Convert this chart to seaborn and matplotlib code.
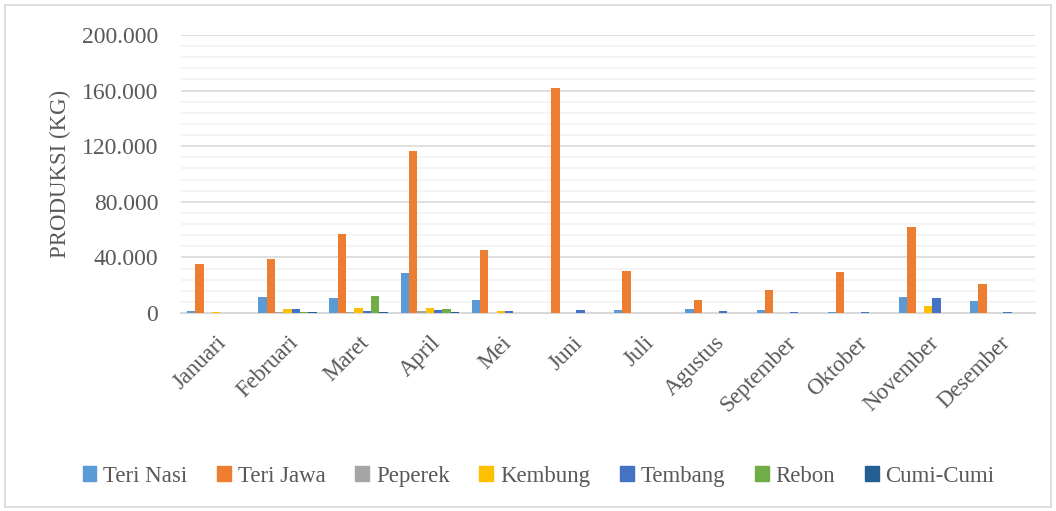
import matplotlib
matplotlib.use("Agg")
import matplotlib.pyplot as plt
import matplotlib.ticker as mticker
from matplotlib.patches import Rectangle
import seaborn as sns
import pandas as pd

months = ["Januari", "Februari", "Maret", "April", "Mei", "Juni", "Juli",
          "Agustus", "September", "Oktober", "November", "Desember"]
species = ["Teri Nasi", "Teri Jawa", "Peperek", "Kembung", "Tembang", "Rebon", "Cumi-Cumi"]

teri_nasi = [1700, 11700, 10800, 28500, 9400, 300, 2100, 2700, 2100, 900, 11700, 8800]
teri_jawa = [35200, 38800, 56500, 116300, 45200, 161600, 30000, 9400, 16300, 29300, 61600, 20900]
peperek   = [300, 500, 1000, 1700, 300, 200, 200, 300, 200, 200, 300, 200]
kembung   = [900, 2900, 3600, 3600, 1200, 300, 200, 300, 200, 200, 5000, 200]
tembang   = [300, 2700, 1700, 2100, 1700, 2100, 300, 1200, 900, 900, 10800, 900]
rebon     = [300, 900, 12200, 3100, 300, 200, 200, 200, 200, 200, 300, 200]
cumi_cumi = [300, 400, 400, 400, 300, 200, 200, 300, 200, 200, 300, 200]

colors = ["#5B9BD5", "#ED7D31", "#A5A5A5", "#FFC000", "#4472C4", "#70AD47", "#255E91"]

series = [teri_nasi, teri_jawa, peperek, kembung, tembang, rebon, cumi_cumi]
df = pd.DataFrame(
    [(m, s, v) for s, vals in zip(species, series) for m, v in zip(months, vals)],
    columns=["Bulan", "Jenis", "Produksi"],
)

sns.set_style("white")
plt.rcParams["font.family"] = ["Liberation Serif", "DejaVu Serif"]
text_color = "#595959"

fig = plt.figure(figsize=(10.56, 5.11), dpi=100)
ax = fig.add_axes([0.171, 0.3875, 0.809, 0.544])

sns.barplot(data=df, x="Bulan", y="Produksi", hue="Jenis", order=months,
            hue_order=species, palette=colors, width=0.82, ax=ax,
            saturation=1, errorbar=None, linewidth=0, zorder=3)

ax.set_ylim(0, 200000)
ax.set_xlim(-0.5, len(months) - 0.5)
ax.yaxis.set_major_locator(mticker.MultipleLocator(40000))
ax.yaxis.set_minor_locator(mticker.MultipleLocator(8000))
ax.yaxis.set_major_formatter(
    mticker.FuncFormatter(lambda v, p: f"{v:,.0f}".replace(",", ".")))
ax.grid(axis="y", which="major", color="#D9D9D9", linewidth=1.2, zorder=0)
ax.grid(axis="y", which="minor", color="#F2F2F2", linewidth=1.2, zorder=0)
ax.set_axisbelow(True)

for side in ["top", "right", "left"]:
    ax.spines[side].set_visible(False)
ax.spines["bottom"].set_color("#D9D9D9")
ax.spines["bottom"].set_linewidth(1.5)

ax.tick_params(axis="both", which="both", length=0, colors=text_color)
ax.tick_params(axis="y", labelsize=17, pad=16)
ax.tick_params(axis="x", labelsize=16.5, pad=14)
plt.setp(ax.get_xticklabels(), rotation=45, ha="right", rotation_mode="anchor")

ax.set_xlabel("")
ax.set_ylabel("PRODUKSI (KG)", fontsize=16.5, color=text_color, labelpad=8)

ax.legend_.remove()
handles = [Rectangle((0, 0), 1, 1, color=c) for c in colors]
fig.legend(handles, species, loc="center", bbox_to_anchor=(0.51, 0.068),
           ncol=len(species), frameon=False, fontsize=16.5,
           handlelength=0.6, handleheight=0.6, handletextpad=0.3,
           columnspacing=1.3, labelcolor=text_color)

fig.patches.append(Rectangle((0.005, 0.008), 0.99, 0.982, transform=fig.transFigure,
                             fill=False, edgecolor="#D9D9D9", linewidth=1.2))

fig.savefig("out.png", dpi=100)
